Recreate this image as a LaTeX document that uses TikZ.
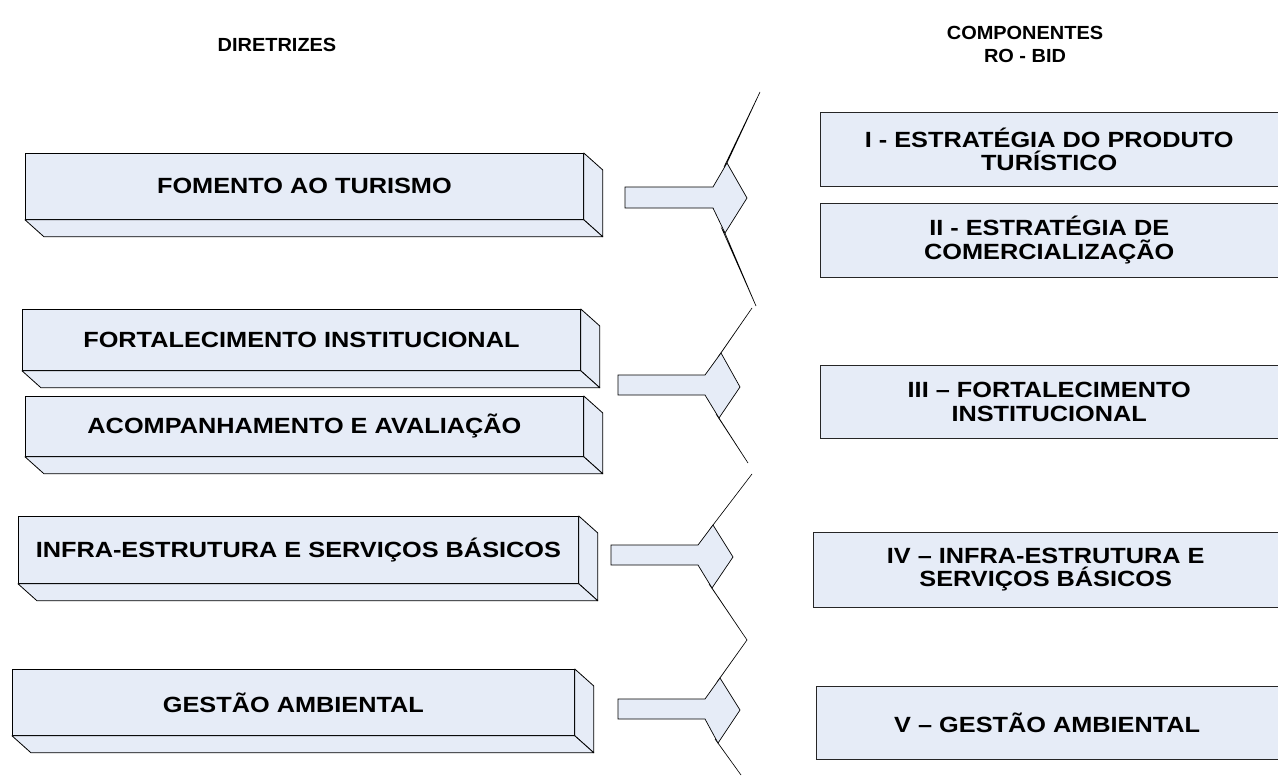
\documentclass[tikz,border=0pt]{standalone}
\usepackage{fontspec}
\setmainfont{Liberation Sans}
\newfontfamily\boxfont[FakeStretch=1.15]{Liberation Sans}
\newfontfamily\headfont[FakeStretch=1.05]{Liberation Sans}
\usetikzlibrary{calc}
\definecolor{bfill}{HTML}{E6ECF7}
\newcommand\depthfaces[1]{%
  \path[face] (#1.north east) -- ++(19,17) -- ($(#1.south east)+(19,17)$) -- (#1.south east) -- cycle;
  \path[face] (#1.south west) -- (#1.south east) -- ($(#1.south east)+(19,17)$) -- ($(#1.south west)+(19,17)$) -- cycle;
}
\newcommand\openedge[1]{%
  \draw[edgeline] (#1.north east) -- (#1.north west) -- (#1.south west) -- (#1.south east);
}
\begin{document}
\begin{tikzpicture}[x=1pt,y=-1pt,
  front/.style={draw=black, fill=bfill, line width=0.8pt, inner sep=0pt, anchor=north west,
    font=\boxfont\bfseries\fontsize{22}{24}\selectfont, align=center},
  face/.style={draw=black, fill=bfill, line width=0.8pt, line join=round},
  rbox/.style={fill=bfill, inner sep=0pt, anchor=north west,
    font=\boxfont\bfseries\fontsize{22}{23.5}\selectfont, align=center},
  edgeline/.style={draw=black!85, line width=0.9pt},
  arrowshape/.style={draw=black, fill=bfill, line width=0.7pt, line join=miter},
  sliver/.style={draw=black, fill=white, line width=0.6pt, line join=miter},
  head/.style={font=\headfont\bfseries\fontsize{19}{23}\selectfont, align=center}]
\useasboundingbox (0,0) rectangle (1278,776);

% headings
\node[head] (h1) at (277,45) {DIRETRIZES};
\node[head] (h2) at (1025,44) {COMPONENTES\\RO - BID};

% left boxes (3D)
\node[front, minimum width=558, minimum height=66] (l1) at (25,153) {FOMENTO AO TURISMO};
\node[front, minimum width=558, minimum height=61] (l2) at (22,309) {FORTALECIMENTO INSTITUCIONAL};
\node[front, minimum width=558, minimum height=60] (l3) at (25,396) {ACOMPANHAMENTO E AVALIAÇÃO};
\node[front, minimum width=560, minimum height=67] (l4) at (18,516) {INFRA-ESTRUTURA E SERVIÇOS BÁSICOS};
\node[front, minimum width=562, minimum height=66] (l5) at (12,669) {GESTÃO AMBIENTAL};
\depthfaces{l1}\depthfaces{l2}\depthfaces{l3}\depthfaces{l4}\depthfaces{l5}

% right boxes
\node[rbox, minimum width=458, minimum height=74] (r1) at (820,112) {I - ESTRATÉGIA DO PRODUTO\\TURÍSTICO};
\node[rbox, minimum width=458, minimum height=74] (r2) at (820,203) {II - ESTRATÉGIA DE\\COMERCIALIZAÇÃO};
\node[rbox, minimum width=458, minimum height=73] (r3) at (820,365) {III – FORTALECIMENTO\\INSTITUCIONAL};
\node[rbox, minimum width=465, minimum height=75] (r4) at (813,532) {IV – INFRA-ESTRUTURA E\\SERVIÇOS BÁSICOS};
\node[rbox, minimum width=462, minimum height=73] (r5) at (816,686) {V – GESTÃO AMBIENTAL};
\openedge{r1}\openedge{r2}\openedge{r3}\openedge{r4}\openedge{r5}

% connector 1
\coordinate (c1t) at (727,163); \coordinate (c1b) at (725,233);
\coordinate (c1u) at (760,92);  \coordinate (c1d) at (756,306);
\draw[sliver] (c1t) -- (c1u) -- ($(c1t)+(-3,4)$) -- cycle;
\draw[sliver] (c1b) -- (c1d) -- ($(c1b)+(-3,-4)$) -- cycle;
\draw[arrowshape] (625,187) -- (713,187) -- (c1t) -- (747,198) -- (c1b) -- (713,208) -- (625,208) -- cycle;

% connector 2
\coordinate (c2t) at (721,353); \coordinate (c2b) at (719,418);
\coordinate (c2u) at (752,308); \coordinate (c2d) at (748,463);
\draw[sliver] (c2t) -- (c2u) -- ($(c2t)+(-3,4)$) -- cycle;
\draw[sliver] (c2b) -- (c2d) -- ($(c2b)+(-3,-4)$) -- cycle;
\draw[arrowshape] (618,375) -- (705,375) -- (c2t) -- (740,387) -- (c2b) -- (705,395) -- (618,395) -- cycle;

% connector 3
\coordinate (c3t) at (713,525); \coordinate (c3b) at (712,588);
\coordinate (c3u) at (752,474); \coordinate (c3d) at (747,640);
\draw[sliver] (c3t) -- (c3u) -- ($(c3t)+(-3,4)$) -- cycle;
\draw[sliver] (c3b) -- (c3d) -- ($(c3b)+(-3,-4)$) -- cycle;
\draw[arrowshape] (611,545) -- (698,545) -- (c3t) -- (733,557) -- (c3b) -- (698,565) -- (611,565) -- cycle;

% connector 4
\coordinate (c4t) at (720,678); \coordinate (c4b) at (718,743);
\coordinate (c4u) at (747,640); \coordinate (c4d) at (741,775);
\draw[sliver] (c4t) -- (c4u) -- ($(c4t)+(-3,4)$) -- cycle;
\draw[sliver] (c4b) -- (c4d) -- ($(c4b)+(-3,-4)$) -- cycle;
\draw[arrowshape] (618,699) -- (705,699) -- (c4t) -- (740,710) -- (c4b) -- (705,719) -- (618,719) -- cycle;
\end{tikzpicture}
\end{document}
